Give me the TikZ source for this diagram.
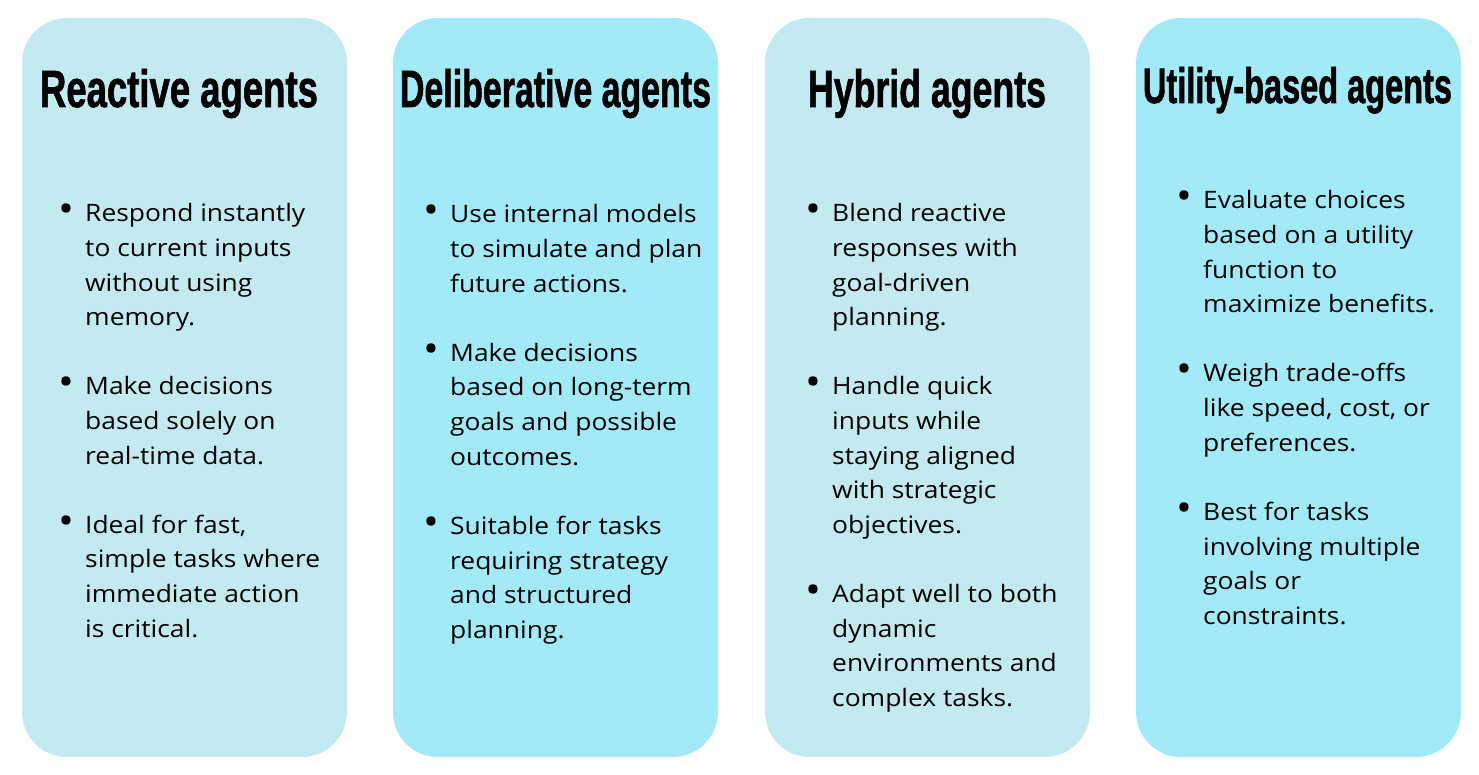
\documentclass[tikz,border=0pt]{standalone}
\usepackage{fontspec}
\setmainfont{Open Sans}
\newfontfamily\bodyfont[FakeStretch=1.1]{Open Sans}
\newfontfamily\ttlfont[FakeBold=1.5]{Liberation Sans}
\usepackage{array}
\definecolor{cardA}{HTML}{C3EAF0}
\definecolor{cardB}{HTML}{A2EAF7}
\tikzset{
  card/.style={rounded corners=45pt},
  ttl/.style={inner sep=0pt, anchor=base},
  body/.style={inner sep=0pt, anchor=base west, font=\bodyfont\fontsize{24}{34.6}\selectfont, text=black}
}
\newcommand{\ttlx}[3]{\resizebox{#1pt}{#2pt}{\ttlfont\bfseries #3}}
\newcommand{\bl}{\raisebox{-1pt}{\scalebox{1.6}{\textbullet}}}
\begin{document}
\begin{tikzpicture}[x=1pt,y=-1pt]
\useasboundingbox (0,0) rectangle (1479,775);
\fill[white] (0,0) rectangle (1479,775);
\fill[cardA,card] (22,18) rectangle (347,757);
\fill[cardB,card] (393,18) rectangle (718,757);
\fill[cardA,card] (765,18) rectangle (1090,757);
\fill[cardB,card] (1136,18) rectangle (1461,757);
\node[ttl] (t1) at (179,107) {\ttlx{278}{38}{Reactive agents}};
\node[ttl] (t2) at (555.5,107) {\ttlx{311}{38}{Deliberative agents}};
\node[ttl] (t3) at (927,107) {\ttlx{238}{38}{Hybrid agents}};
\node[ttl] (t4) at (1297.5,103) {\ttlx{309}{36}{Utility-based agents}};
\node[body] (b1) at (58,222) {\begin{tabular}[t]{@{}p{27pt}@{}l@{}}
\bl & Respond instantly\\ & to current inputs\\ & without using\\ & memory.\\ & \\
\bl & Make decisions\\ & based solely on\\ & real-time data.\\ & \\
\bl & Ideal for fast,\\ & simple tasks where\\ & immediate action\\ & is critical.
\end{tabular}};
\node[body] (b2) at (423,223) {\begin{tabular}[t]{@{}p{27pt}@{}l@{}}
\bl & Use internal models\\ & to simulate and plan\\ & future actions.\\ & \\
\bl & Make decisions\\ & based on long-term\\ & goals and possible\\ & outcomes.\\ & \\
\bl & Suitable for tasks\\ & requiring strategy\\ & and structured\\ & planning.
\end{tabular}};
\node[body] (b3) at (805,222) {\begin{tabular}[t]{@{}p{27pt}@{}l@{}}
\bl & Blend reactive\\ & responses with\\ & goal-driven\\ & planning.\\ & \\
\bl & Handle quick\\ & inputs while\\ & staying aligned\\ & with strategic\\ & objectives.\\ & \\
\bl & Adapt well to both\\ & dynamic\\ & environments and\\ & complex tasks.
\end{tabular}};
\node[body] (b4) at (1176,209) {\begin{tabular}[t]{@{}p{27pt}@{}l@{}}
\bl & Evaluate choices\\ & based on a utility\\ & function to\\ & maximize benefits.\\ & \\
\bl & Weigh trade-offs\\ & like speed, cost, or\\ & preferences.\\ & \\
\bl & Best for tasks\\ & involving multiple\\ & goals or\\ & constraints.
\end{tabular}};
\end{tikzpicture}
\end{document}
